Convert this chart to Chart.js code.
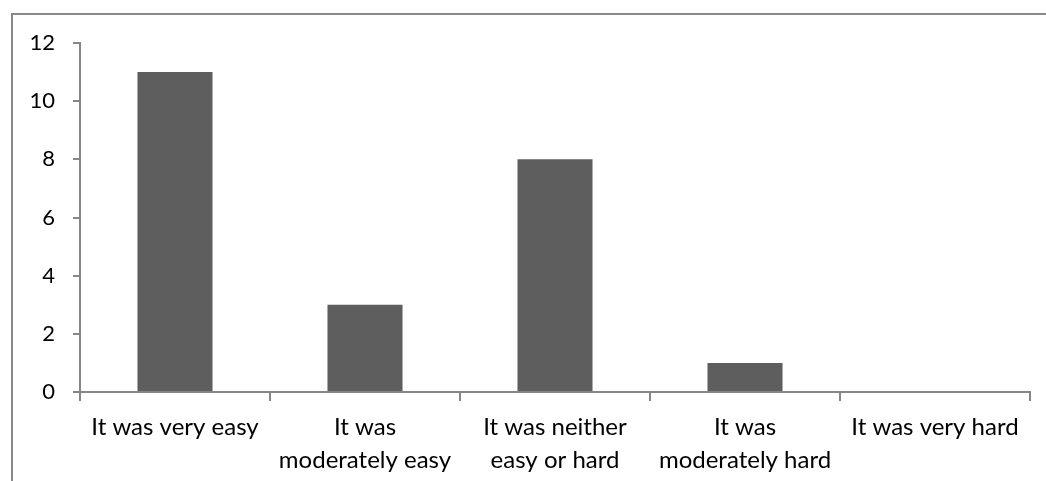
<!DOCTYPE html>
<html>
<head>
<meta charset="utf-8">
<script src="https://cdn.jsdelivr.net/npm/chart.js@4/dist/chart.umd.min.js"></script>
<style>
  html, body { margin: 0; padding: 0; background: #ffffff; }
  #wrap { position: relative; width: 1046px; height: 481px; overflow: hidden; }
  #frame {
    position: absolute; left: 11px; top: 13px; width: 1100px; height: 600px;
    border-left: 2px solid #8a8a8a; border-top: 2px solid #8a8a8a;
    box-sizing: border-box;
  }
  #chart { position: absolute; left: 0; top: 0; }
</style>
</head>
<body>
<div id="wrap">
  <div id="frame"></div>
  <canvas id="chart" width="1046" height="481"></canvas>
</div>
<script>
// Survey responses: how easy was it?
const categories = [
  'It was very easy',
  ['It was', 'moderately easy'],
  ['It was neither', 'easy or hard'],
  ['It was', 'moderately hard'],
  'It was very hard'
];
const responses = [11, 3, 8, 1, 0];
const yTicks = [0, 2, 4, 6, 8, 10, 12];

const axisGray = '#868686';
const fontFamily = 'Lato, "Open Sans", sans-serif';

new Chart(document.getElementById('chart'), {
  type: 'bar',
  data: {
    labels: categories,
    datasets: [{
      data: responses,
      backgroundColor: '#5e5e5e',
      borderWidth: 0,
      categoryPercentage: 1,
      barPercentage: 0.395
    }]
  },
  options: {
    responsive: false,
    animation: false,
    devicePixelRatio: 1,
    layout: { padding: { left: 0, right: 16, top: 43, bottom: 0 } },
    plugins: { legend: { display: false }, tooltip: { enabled: false } },
    scales: {
      x: {
        offset: true,
        grid: {
          offset: true,
          drawOnChartArea: false,
          drawTicks: true,
          tickLength: 9,
          color: axisGray,
          lineWidth: 2
        },
        border: { color: axisGray, width: 2 },
        ticks: {
          color: '#000000',
          font: { family: fontFamily, size: 24, lineHeight: 1.36 },
          padding: 10,
          maxRotation: 0,
          autoSkip: false
        },
        afterFit(scale) { scale.height = 89; }
      },
      y: {
        min: 0,
        max: 12,
        afterBuildTicks(scale) { scale.ticks = yTicks.map(v => ({ value: v })); },
        grid: {
          drawOnChartArea: false,
          drawTicks: true,
          tickLength: 7,
          color: axisGray,
          lineWidth: 2
        },
        border: { color: axisGray, width: 2 },
        ticks: {
          color: '#000000',
          font: { family: fontFamily, size: 22 },
          padding: 18
        },
        afterFit(scale) { scale.width = 80; }
      }
    }
  }
});
</script>
</body>
</html>
